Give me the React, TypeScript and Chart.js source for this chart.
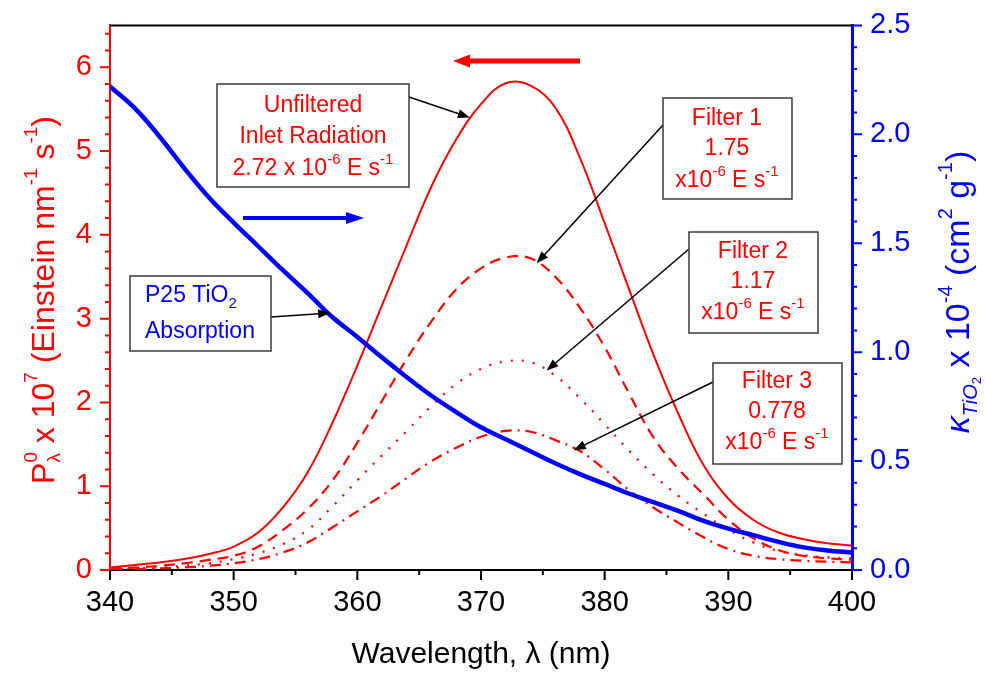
import React, { useEffect, useRef } from "react";
import { Chart, registerables } from "chart.js";

Chart.register(...registerables);

// ---------------- DATA ----------------
const wavelengths = [340, 342, 344, 346, 348, 350, 352, 354, 356, 358, 360, 362, 364, 366, 368, 370, 372, 374, 376, 378, 380, 382, 384, 386, 388, 390, 392, 394, 396, 398, 400];
// P_lambda^0 x 10^7 (Einstein nm^-1 s^-1)
const unfiltered = [0.03, 0.06, 0.09, 0.13, 0.19, 0.28, 0.45, 0.75, 1.17, 1.76, 2.44, 3.16, 3.88, 4.58, 5.14, 5.56, 5.81, 5.78, 5.52, 4.92, 4.14, 3.34, 2.55, 1.85, 1.25, 0.85, 0.60, 0.45, 0.37, 0.32, 0.29];
const filter1 = [0.02, 0.03, 0.05, 0.08, 0.12, 0.17, 0.28, 0.48, 0.73, 1.07, 1.52, 2.02, 2.52, 2.97, 3.35, 3.60, 3.73, 3.72, 3.50, 3.13, 2.66, 2.10, 1.57, 1.20, 0.90, 0.60, 0.38, 0.24, 0.17, 0.14, 0.12];
const filter2 = [0.01, 0.02, 0.03, 0.05, 0.08, 0.13, 0.20, 0.31, 0.48, 0.76, 1.07, 1.37, 1.66, 1.96, 2.22, 2.40, 2.49, 2.48, 2.32, 2.05, 1.74, 1.42, 1.13, 0.88, 0.67, 0.48, 0.33, 0.23, 0.18, 0.15, 0.14];
const filter3 = [0.01, 0.01, 0.02, 0.03, 0.05, 0.08, 0.13, 0.21, 0.33, 0.51, 0.70, 0.89, 1.10, 1.30, 1.46, 1.59, 1.66, 1.65, 1.55, 1.42, 1.20, 0.95, 0.74, 0.56, 0.39, 0.25, 0.17, 0.13, 0.11, 0.10, 0.09];
// kappa_TiO2 x 10^-4 (cm^2 g^-1)
const tio2Absorption = [2.22, 2.12, 1.99, 1.845, 1.71, 1.595, 1.485, 1.375, 1.27, 1.16, 1.07, 0.975, 0.885, 0.80, 0.725, 0.655, 0.60, 0.545, 0.49, 0.44, 0.395, 0.35, 0.31, 0.27, 0.225, 0.19, 0.16, 0.13, 0.105, 0.09, 0.08];

const xTicks = [340, 350, 360, 370, 380, 390, 400];
const xMinorTicks = [345, 355, 365, 375, 385, 395];
const leftTicks = [0, 1, 2, 3, 4, 5, 6];
const leftMinorTicks = [0.2, 0.4, 0.6, 0.8, 1.2, 1.4, 1.6, 1.8, 2.2, 2.4, 2.6, 2.8, 3.2, 3.4, 3.6, 3.8, 4.2, 4.4, 4.6, 4.8, 5.2, 5.4, 5.6, 5.8, 6.2, 6.4];
const rightTicks = [0, 0.5, 1.0, 1.5, 2.0, 2.5];
const rightMinorTicks = [0.1, 0.2, 0.3, 0.4, 0.6, 0.7, 0.8, 0.9, 1.1, 1.2, 1.3, 1.4, 1.6, 1.7, 1.8, 1.9, 2.1, 2.2, 2.3, 2.4];

// ---------------- STYLE ----------------
const RED = "#ff0000";
const BLUE = "#0000ff";
const FAMILY = "'Liberation Sans', Arial, Helvetica, sans-serif";

type Seg = { t: string; s: number; dy?: number; it?: boolean; na?: boolean };

function setFont(ctx: CanvasRenderingContext2D, seg: Seg) {
  ctx.font = `${seg.it ? "italic " : ""}${seg.s}px ${FAMILY}`;
}
function richWidth(ctx: CanvasRenderingContext2D, segs: Seg[]) {
  let w = 0;
  for (const sg of segs) {
    setFont(ctx, sg);
    if (!sg.na) w += ctx.measureText(sg.t).width;
  }
  return w;
}
function drawRich(ctx: CanvasRenderingContext2D, segs: Seg[], x: number, y: number, align: "left" | "center", color: string) {
  ctx.fillStyle = color;
  ctx.textBaseline = "middle";
  ctx.textAlign = "left";
  let cx = align === "center" ? x - richWidth(ctx, segs) / 2 : x;
  for (const sg of segs) {
    setFont(ctx, sg);
    ctx.fillText(sg.t, cx, y + (sg.dy || 0));
    if (!sg.na) cx += ctx.measureText(sg.t).width;
  }
}
function arrowLine(ctx: CanvasRenderingContext2D, x0: number, y0: number, x1: number, y1: number, color: string, lw: number, headLen: number, headHalf: number) {
  const ang = Math.atan2(y1 - y0, x1 - x0);
  const bx = x1 - headLen * Math.cos(ang);
  const by = y1 - headLen * Math.sin(ang);
  ctx.strokeStyle = color;
  ctx.lineWidth = lw;
  ctx.setLineDash([]);
  ctx.beginPath();
  ctx.moveTo(x0, y0);
  ctx.lineTo(bx + Math.cos(ang) * 1, by + Math.sin(ang) * 1);
  ctx.stroke();
  ctx.fillStyle = color;
  ctx.beginPath();
  ctx.moveTo(x1, y1);
  ctx.lineTo(bx + headHalf * Math.sin(ang), by - headHalf * Math.cos(ang));
  ctx.lineTo(bx - headHalf * Math.sin(ang), by + headHalf * Math.cos(ang));
  ctx.closePath();
  ctx.fill();
}

const BOX = 23;
const SUP = 15;
const unitLine: Seg[] = [
  { t: "x10", s: BOX },
  { t: "-6", s: SUP, dy: -9 },
  { t: " E s", s: BOX },
  { t: "-1", s: SUP, dy: -9 },
];

const decorPlugin = {
  id: "decor",
  afterDatasetsDraw(chart: any) {
    const ctx: CanvasRenderingContext2D = chart.ctx;
    const xs = chart.scales.x;
    const yl = chart.scales.y;
    const yr = chart.scales.y1;
    const ca = chart.chartArea;
    ctx.save();

    // top frame
    ctx.strokeStyle = "#000";
    ctx.lineWidth = 2;
    ctx.beginPath();
    ctx.moveTo(ca.left, ca.top);
    ctx.lineTo(ca.right, ca.top);
    ctx.stroke();

    // tick marks
    const tick = (color: string, lw: number, fn: () => void) => {
      ctx.strokeStyle = color;
      ctx.lineWidth = lw;
      ctx.beginPath();
      fn();
      ctx.stroke();
    };
    tick("#000", 2, () => {
      for (const v of xTicks) { const p = xs.getPixelForValue(v); ctx.moveTo(p, ca.bottom); ctx.lineTo(p, ca.bottom + 10); }
      for (const v of xMinorTicks) { const p = xs.getPixelForValue(v); ctx.moveTo(p, ca.bottom); ctx.lineTo(p, ca.bottom + 5); }
    });
    tick(RED, 2, () => {
      for (const v of leftTicks) { const p = yl.getPixelForValue(v); ctx.moveTo(ca.left, p); ctx.lineTo(ca.left - 10, p); }
      for (const v of leftMinorTicks) { const p = yl.getPixelForValue(v); ctx.moveTo(ca.left, p); ctx.lineTo(ca.left - 5, p); }
    });
    tick(BLUE, 2, () => {
      for (const v of rightTicks) { const p = yr.getPixelForValue(v); ctx.moveTo(ca.right, p); ctx.lineTo(ca.right + 10, p); }
      for (const v of rightMinorTicks) { const p = yr.getPixelForValue(v); ctx.moveTo(ca.right, p); ctx.lineTo(ca.right + 5, p); }
    });

    // axis titles
    drawRich(ctx, [{ t: "Wavelength, λ (nm)", s: 30 }], (ca.left + ca.right) / 2, 655, "center", "#000");

    const T = 32;
    const sm = 19;
    const leftTitle: Seg[] = [
      { t: "P", s: T },
      { t: "λ", s: sm, dy: 10, na: true },
      { t: "0", s: sm, dy: -13 },
      { t: " x 10", s: T },
      { t: "7", s: sm, dy: -13 },
      { t: " (Einstein nm", s: T },
      { t: "-1", s: sm, dy: -13 },
      { t: " s", s: T },
      { t: "-1", s: sm, dy: -13 },
      { t: ")", s: T },
    ];
    ctx.save();
    ctx.translate(45, 300);
    ctx.rotate(-Math.PI / 2);
    drawRich(ctx, leftTitle, 0, 0, "center", RED);
    ctx.restore();

    const R = 34;
    const rightTitle: Seg[] = [
      { t: "κ", s: R, it: true },
      { t: "TiO", s: 20, dy: 11, it: true },
      { t: "2", s: 13, dy: 17 },
      { t: " x 10", s: R },
      { t: "-4", s: 20, dy: -14 },
      { t: " (cm", s: R },
      { t: "2", s: 20, dy: -14 },
      { t: " g", s: R },
      { t: "-1", s: 20, dy: -14 },
      { t: ")", s: R },
    ];
    ctx.save();
    ctx.translate(960, 292);
    ctx.rotate(-Math.PI / 2);
    drawRich(ctx, rightTitle, 0, 0, "center", BLUE);
    ctx.restore();

    // big direction arrows
    arrowLine(ctx, 580, 61, 453, 61, RED, 5, 17, 6.5);
    arrowLine(ctx, 243, 218, 364, 218, BLUE, 4, 18, 6);

    // annotation boxes
    const box = (x: number, y: number, w: number, h: number) => {
      ctx.fillStyle = "#fff";
      ctx.fillRect(x, y, w, h);
      ctx.strokeStyle = "#3a3a3a";
      ctx.lineWidth = 1.5;
      ctx.setLineDash([]);
      ctx.strokeRect(x, y, w, h);
    };

    // Unfiltered
    arrowLine(ctx, 409, 97, xs.getPixelForValue(369.1), yl.getPixelForValue(5.4), "#000", 1.5, 12, 4.5);
    box(217, 84, 192, 103);
    drawRich(ctx, [{ t: "Unfiltered", s: BOX }], 313, 106, "center", RED);
    drawRich(ctx, [{ t: "Inlet Radiation", s: BOX }], 313, 137, "center", RED);
    drawRich(ctx, [{ t: "2.72 x 10", s: BOX }, { t: "-6", s: SUP, dy: -9 }, { t: " E s", s: BOX }, { t: "-1", s: SUP, dy: -9 }], 313, 169, "center", RED);

    // Filter 1
    arrowLine(ctx, 663, 125, xs.getPixelForValue(374.5), yl.getPixelForValue(3.66), "#000", 1.5, 12, 4.5);
    box(663, 98, 129, 101);
    drawRich(ctx, [{ t: "Filter 1", s: BOX }], 727, 119, "center", RED);
    drawRich(ctx, [{ t: "1.75", s: BOX }], 727, 149, "center", RED);
    drawRich(ctx, unitLine, 727, 181, "center", RED);

    // Filter 2
    arrowLine(ctx, 689, 249, xs.getPixelForValue(375.3), yl.getPixelForValue(2.38), "#000", 1.5, 12, 4.5);
    box(689, 232, 129, 101);
    drawRich(ctx, [{ t: "Filter 2", s: BOX }], 753, 252, "center", RED);
    drawRich(ctx, [{ t: "1.17", s: BOX }], 753, 282, "center", RED);
    drawRich(ctx, unitLine, 753, 313, "center", RED);

    // Filter 3
    arrowLine(ctx, 713, 382, xs.getPixelForValue(377.5), yl.getPixelForValue(1.43), "#000", 1.5, 12, 4.5);
    box(713, 363, 129, 101);
    drawRich(ctx, [{ t: "Filter 3", s: BOX }], 777, 382, "center", RED);
    drawRich(ctx, [{ t: "0.778", s: BOX }], 777, 412, "center", RED);
    drawRich(ctx, unitLine, 777, 443, "center", RED);

    // P25 TiO2
    arrowLine(ctx, 271, 317, xs.getPixelForValue(357.8), yr.getPixelForValue(1.18), "#000", 1.5, 12, 4.5);
    box(130, 276, 141, 75);
    drawRich(ctx, [{ t: "P25 TiO", s: BOX }, { t: "2", s: SUP, dy: 8 }], 145, 296, "left", BLUE);
    drawRich(ctx, [{ t: "Absorption", s: BOX }], 145, 332, "left", BLUE);

    ctx.restore();
  },
};

const pts = (arr: number[]) => wavelengths.map((w, i) => ({ x: w, y: arr[i] }));

export default function App() {
  const ref = useRef<HTMLCanvasElement | null>(null);
  useEffect(() => {
    if (!ref.current) return;
    const tickFont = { family: FAMILY, size: 29 };
    const common = { pointRadius: 0, tension: 0.4, cubicInterpolationMode: "default" };
    const chart = new Chart(ref.current, {
      type: "line",
      data: {
        datasets: [
          { label: "P25 TiO2 Absorption", data: pts(tio2Absorption), yAxisID: "y1", borderColor: BLUE, borderWidth: 4.5, ...common },
          { label: "Unfiltered", data: pts(unfiltered), yAxisID: "y", borderColor: RED, borderWidth: 2, ...common },
          { label: "Filter 1", data: pts(filter1), yAxisID: "y", borderColor: RED, borderWidth: 2.2, borderDash: [11, 7], ...common },
          { label: "Filter 2", data: pts(filter2), yAxisID: "y", borderColor: RED, borderWidth: 2.2, borderDash: [2, 9], ...common },
          { label: "Filter 3", data: pts(filter3), yAxisID: "y", borderColor: RED, borderWidth: 2.2, borderDash: [11, 6, 2, 6], ...common },
        ],
      },
      options: {
        animation: false,
        responsive: false,
        layout: { padding: { top: 23, left: 0, right: 0, bottom: 0 } },
        plugins: { legend: { display: false }, tooltip: { enabled: false }, title: { display: false } },
        scales: {
          x: {
            type: "linear",
            position: "bottom",
            min: 340,
            max: 400,
            afterBuildTicks: (s: any) => { s.ticks = xTicks.map((v) => ({ value: v })); },
            afterFit: (s: any) => { s.height = 105; },
            ticks: { font: tickFont, color: "#000", padding: 6, maxRotation: 0, autoSkip: false },
            grid: { display: false, drawTicks: true, tickLength: 10 },
            border: { display: true, color: "#000", width: 2 },
          },
          y: {
            type: "linear",
            position: "left",
            min: 0,
            max: 6.5,
            afterBuildTicks: (s: any) => { s.ticks = leftTicks.map((v) => ({ value: v })); },
            afterFit: (s: any) => { s.width = 110; },
            ticks: { font: tickFont, color: RED, padding: 8 },
            grid: { display: false, drawTicks: true, tickLength: 10 },
            border: { display: true, color: RED, width: 2 },
          },
          y1: {
            type: "linear",
            position: "right",
            min: 0,
            max: 2.5,
            afterBuildTicks: (s: any) => { s.ticks = rightTicks.map((v) => ({ value: v })); },
            afterFit: (s: any) => { s.width = 133; },
            ticks: { font: tickFont, color: BLUE, padding: 8, callback: (v: any) => Number(v).toFixed(1) },
            grid: { display: false, drawTicks: true, tickLength: 10 },
            border: { display: true, color: BLUE, width: 3 },
          },
        },
      },
      plugins: [decorPlugin],
    } as any);
    return () => chart.destroy();
  }, []);
  return (
    <div style={{ position: "absolute", left: 0, top: 0, width: 985, height: 675, background: "#fff" }}>
      <canvas ref={ref} width={985} height={675} style={{ display: "block" }} />
    </div>
  );
}
